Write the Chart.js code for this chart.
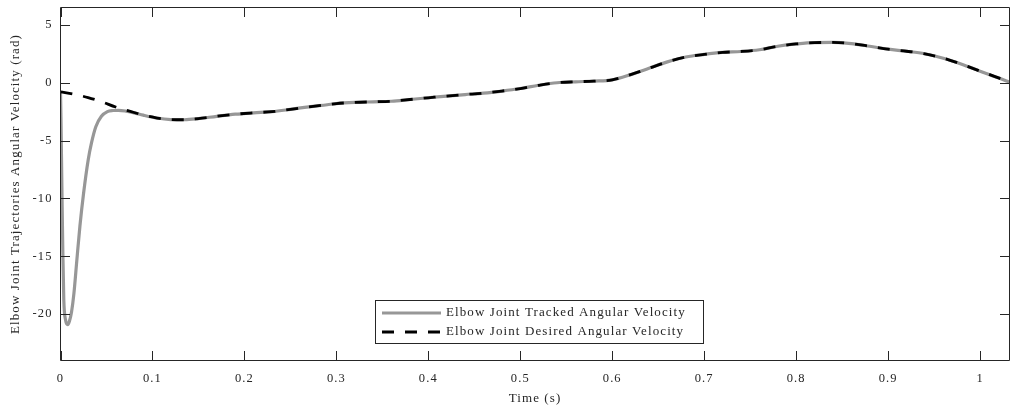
<!DOCTYPE html>
<html>
<head>
<meta charset="utf-8">
<title>Elbow Joint Angular Velocity</title>
<script src="https://cdn.jsdelivr.net/npm/chart.js@4.4.1/dist/chart.umd.min.js"></script>
<style>
  html, body { margin: 0; padding: 0; background: #fff; }
  canvas { display: block; }
</style>
</head>
<body>
<canvas id="velocityChart" width="1010" height="407"></canvas>
<script>
// Desired elbow angular velocity (reference trajectory), rad vs s
const desiredTime = [0, 0.015, 0.03, 0.045, 0.06, 0.075, 0.09, 0.105, 0.12, 0.135, 0.15, 0.17, 0.19, 0.21, 0.23, 0.25, 0.27, 0.29,
  0.30, 0.32, 0.34, 0.36, 0.38, 0.40, 0.42, 0.44, 0.46, 0.48, 0.50, 0.52, 0.54, 0.56, 0.58, 0.60, 0.62, 0.64, 0.66, 0.68,
  0.70, 0.72, 0.74, 0.76, 0.78, 0.80, 0.82, 0.84, 0.86, 0.88, 0.90, 0.92, 0.94, 0.96, 0.98, 1.00, 1.02, 1.032];
const desiredVel = [-0.78, -1.0, -1.28, -1.65, -2.1, -2.45, -2.8, -3.05, -3.18, -3.2, -3.1, -2.9, -2.72, -2.6, -2.5, -2.3, -2.08, -1.9,
  -1.8, -1.7, -1.65, -1.6, -1.45, -1.3, -1.15, -1.02, -0.9, -0.72, -0.5, -0.22, 0.0, 0.08, 0.14, 0.25, 0.7, 1.25, 1.8, 2.22,
  2.45, 2.62, 2.7, 2.85, 3.15, 3.35, 3.47, 3.48, 3.38, 3.15, 2.9, 2.72, 2.5, 2.12, 1.6, 1.0, 0.42, 0.05];

// Tracked response: sharp initial transient, then it follows the reference
const trackedTime = [0, 0.0005, 0.0015, 0.0025, 0.0036, 0.0055, 0.0078, 0.0097, 0.0120, 0.0146, 0.0178, 0.0211, 0.0251,
  0.0301, 0.0337, 0.0384, 0.0445, 0.051, 0.057, 0.063, 0.071, 0.08, 0.09, 0.105, 0.12, 0.135, 0.15, 0.17, 0.19, 0.21, 0.23,
  0.25, 0.27, 0.29,
  0.30, 0.32, 0.34, 0.36, 0.38, 0.40, 0.42, 0.44, 0.46, 0.48, 0.50, 0.52, 0.54, 0.56, 0.58, 0.60, 0.62, 0.64, 0.66, 0.68,
  0.70, 0.72, 0.74, 0.76, 0.78, 0.80, 0.82, 0.84, 0.86, 0.88, 0.90, 0.92, 0.94, 0.96, 0.98, 1.00, 1.02, 1.032];
const trackedVel = [-0.8, -3, -9, -14.5, -18.8, -20.5, -20.9, -20.6, -19.8, -18.2, -15.3, -12.4, -9.55,
  -6.67, -5.2, -3.8, -2.9, -2.5, -2.4, -2.38, -2.45, -2.6, -2.8, -3.05, -3.18, -3.2, -3.1, -2.9, -2.72, -2.6, -2.5,
  -2.3, -2.08, -1.9,
  -1.8, -1.7, -1.65, -1.6, -1.45, -1.3, -1.15, -1.02, -0.9, -0.72, -0.5, -0.22, 0.0, 0.08, 0.14, 0.25, 0.7, 1.25, 1.8, 2.22,
  2.45, 2.62, 2.7, 2.85, 3.15, 3.35, 3.47, 3.48, 3.38, 3.15, 2.9, 2.72, 2.5, 2.12, 1.6, 1.0, 0.42, 0.05];

const seriesNames = ['Elbow Joint Tracked Angular Velocity', 'Elbow Joint Desired Angular Velocity'];
const xTitle = 'Time (s)';
const yTitle = 'Elbow Joint Trajectories Angular Velocity (rad)';
const xLimits = [0, 1.032], xStep = 0.1;
const yLimits = [-24, 6.5], yStep = 5;

const AXIS_COLOR = '#262626';
const SPACING = '1.1px';   // the serif text here is set rather wide
Chart.defaults.font.family = "'Liberation Serif', 'Times New Roman', serif";
Chart.defaults.color = AXIS_COLOR;

function toPoints(xs, ys) {
  return xs.map((x, i) => ({x, y: ys[i]}));
}

// plain labels: 0, 0.1, ... 1
function shortLabel(v) {
  return String(Number(v.toFixed(2)));
}

// keep the plot box exactly where the layout padding puts it
function fixSize(prop, size) {
  return s => {
    s[prop] = size;
    s.paddingTop = s.paddingBottom = s.paddingLeft = s.paddingRight = 0;
  };
}

// closed box around the plot with inward tick marks on all four sides
const boxAxes = {
  id: 'boxAxes',
  beforeLayout(chart) { chart.ctx.letterSpacing = SPACING; },
  beforeDraw(chart) { chart.ctx.letterSpacing = SPACING; },
  afterDatasetsDraw(chart) {
    const {ctx, chartArea: a, scales: {x, y}} = chart;
    const tl = 9.5;
    ctx.save();
    ctx.strokeStyle = AXIS_COLOR;
    ctx.lineWidth = 1;
    ctx.beginPath();
    ctx.rect(a.left, a.top, a.right - a.left, a.bottom - a.top);
    x.ticks.forEach(t => {
      const px = Math.round(x.getPixelForValue(t.value)) + 0.5;
      ctx.moveTo(px, a.bottom); ctx.lineTo(px, a.bottom - tl);
      ctx.moveTo(px, a.top); ctx.lineTo(px, a.top + tl);
    });
    y.ticks.forEach(t => {
      const py = Math.round(y.getPixelForValue(t.value)) + 0.5;
      ctx.moveTo(a.left, py); ctx.lineTo(a.left + tl, py);
      ctx.moveTo(a.right, py); ctx.lineTo(a.right - tl, py);
    });
    ctx.stroke();
    ctx.restore();
  }
};

// boxed legend sitting inside the plot, bottom centre
const legendOrder = [1, 0];
const boxLegend = {
  id: 'boxLegend',
  afterDraw(chart) {
    const {ctx, chartArea: a} = chart;
    const left = a.left + 315, top = a.bottom - 60, w = 328, h = 43;
    ctx.save();
    ctx.letterSpacing = SPACING;
    ctx.fillStyle = '#fff';
    ctx.fillRect(left, top, w, h);
    ctx.strokeStyle = AXIS_COLOR;
    ctx.lineWidth = 1;
    ctx.strokeRect(left, top, w, h);
    ctx.font = "13px 'Liberation Serif', serif";
    ctx.textBaseline = 'middle';
    legendOrder.forEach((di, row) => {
      const ds = chart.data.datasets[di];
      const cy = top + 12.5 + row * 19;
      ctx.strokeStyle = ds.borderColor;
      ctx.lineWidth = ds.borderWidth;
      ctx.setLineDash(ds.borderDash || []);
      ctx.beginPath();
      ctx.moveTo(left + 6.5, cy);
      ctx.lineTo(left + 65.5, cy);
      ctx.stroke();
      ctx.setLineDash([]);
      ctx.fillStyle = AXIS_COLOR;
      ctx.fillText(ds.label, left + 70.5, cy);
    });
    ctx.restore();
  }
};

new Chart(document.getElementById('velocityChart'), {
  type: 'line',
  data: {
    datasets: [
      {
        label: seriesNames[1],
        data: toPoints(desiredTime, desiredVel),
        borderColor: '#000',
        borderWidth: 2.8,
        borderDash: [12, 11],
        order: 0
      },
      {
        label: seriesNames[0],
        data: toPoints(trackedTime, trackedVel),
        borderColor: '#979797',
        borderWidth: 3.2,
        order: 1
      }
    ]
  },
  options: {
    responsive: false,
    animation: false,
    layout: {padding: {top: 7.5, right: 0.5, left: 0, bottom: 0}},
    elements: {
      point: {radius: 0},
      line: {cubicInterpolationMode: 'monotone', fill: false}
    },
    plugins: {legend: {display: false}, tooltip: {enabled: false}},
    scales: {
      x: {
        type: 'linear',
        min: xLimits[0], max: xLimits[1],
        grid: {display: false, drawTicks: false},
        border: {display: false},
        ticks: {stepSize: xStep, includeBounds: false, padding: 11, maxRotation: 0, autoSkip: false,
          font: {size: 12.5}, callback: shortLabel},
        title: {display: true, text: xTitle, font: {size: 13}, padding: {top: 0, bottom: 1}},
        afterFit: fixSize('height', 46.5)
      },
      y: {
        type: 'linear',
        min: yLimits[0], max: yLimits[1],
        grid: {display: false, drawTicks: false},
        border: {display: false},
        ticks: {stepSize: yStep, includeBounds: false, padding: 8, font: {size: 12.5}, callback: shortLabel},
        title: {display: true, text: yTitle, font: {size: 13}, padding: {top: 8, bottom: 0}},
        afterFit: fixSize('width', 60.5)
      }
    }
  },
  plugins: [boxAxes, boxLegend]
});
</script>
</body>
</html>
